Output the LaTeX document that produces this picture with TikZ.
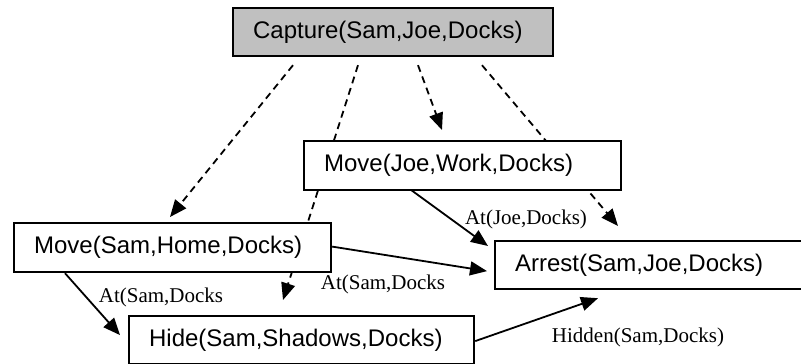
\documentclass[tikz,border=0pt]{standalone}
\usepackage{fontspec}
\setmainfont{Liberation Serif}
\setsansfont{Liberation Sans}
\usetikzlibrary{arrows.meta,calc}
\pgfdeclarelayer{bg}
\pgfsetlayers{bg,main}
\tikzset{
  box/.style={draw=black, line width=2.2pt, fill=white, anchor=north west,
    inner xsep=20pt, inner ysep=0pt, align=left, minimum height=48pt,
    font=\sffamily\fontsize{24}{28}\selectfont},
  lbl/.style={inner sep=0pt, font=\rmfamily\fontsize{21}{25}\selectfont},
  solidarrow/.style={line width=1.8pt, -{Triangle[length=17pt,width=14pt]}},
  dasharrow/.style={line width=1.8pt, dash pattern=on 7pt off 5pt,
    -{Triangle[length=17pt,width=14pt]}},
}
\begin{document}
\begin{tikzpicture}[x=1pt,y=-1pt]
\useasboundingbox (0,0) rectangle (801,364);
\clip (0,0) rectangle (801,364);
\node[box, fill={rgb,255:red,192;green,192;blue,192}, text width=280pt] (cap) at (232,7) {Capture(Sam,Joe,Docks)};
\node[box, text width=277pt, minimum height=49pt] (mj) at (303,140) {Move(Joe,Work,Docks)};
\node[box, text width=277pt, minimum height=49pt] (ms) at (13,222) {Move(Sam,Home,Docks)};
\node[box, text width=305pt] (hide) at (128,315) {Hide(Sam,Shadows,Docks)};
\node[box, text width=290pt] (arr) at (494,240) {Arrest(Sam,Joe,Docks)};

\node[lbl] (l1) at (526,219) {At(Joe,Docks)};
\node[lbl] (l2) at (383,284) {At(Sam,Docks};
\node[lbl] (l3) at (161,297) {At(Sam,Docks};
\node[lbl] (l4) at (638,337) {Hidden(Sam,Docks)};

\begin{pgfonlayer}{bg}
  % dashed arrows from Capture
  \draw[dasharrow] ($(cap.south west)+(61,8)$) -- ($(ms.north west)+(157,-5)$);
  \draw[dasharrow] ($(cap.south west)+(126,8)$) -- ($(hide.north west)+(155,-15)$);
  \draw[dasharrow] ($(cap.south west)+(186,8)$) -- ($(mj.north west)+(139,-10)$);
  \draw[dasharrow] ($(cap.south west)+(250,8)$) -- ($(arr.north west)+(124,-14)$);
  % solid arrows
  \draw[solidarrow] ($(mj.south west)+(107,-2)$) -- ($(arr.north west)+(-6,6)$);
  \draw[solidarrow] ($(ms.east)+(0,-1)$) -- ($(arr.west)+(-7,6)$);
  \draw[solidarrow] ($(ms.south west)+(52,0)$) -- ($(hide.west)+(-8,-5)$);
  \draw[solidarrow] ($(hide.east)+(0,1)$) -- ($(arr.south west)+(104,8)$);
\end{pgfonlayer}
\end{tikzpicture}
\end{document}
